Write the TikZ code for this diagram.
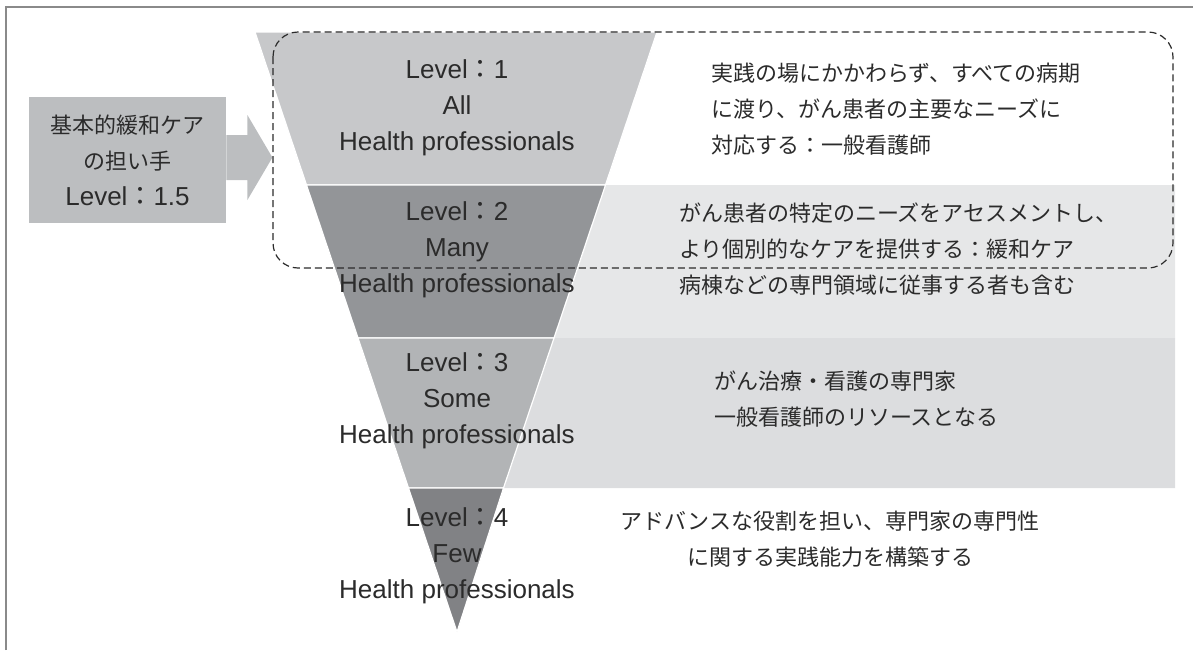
\documentclass[tikz,border=0pt]{standalone}
\usepackage{fontspec}
\setmainfont{Liberation Sans}
\newfontfamily\jfont{Noto Sans CJK JP}
\definecolor{frame}{HTML}{8A8A8A}
\definecolor{tri1}{HTML}{C7C8CA}
\definecolor{tri2}{HTML}{939598}
\definecolor{tri3}{HTML}{B2B4B6}
\definecolor{tri4}{HTML}{818285}
\definecolor{side2}{HTML}{E6E7E8}
\definecolor{side3}{HTML}{DCDDDF}
\definecolor{boxgray}{HTML}{BCBEC0}
\definecolor{ink}{HTML}{2B2B2B}
\newcommand{\lvl}[1]{Level{\jfont ：}#1}
\begin{document}
\begin{tikzpicture}[x=0.5pt,y=-0.5pt,
    lvtext/.style={align=center,text=ink,font=\fontsize{13}{18}\selectfont},
    jtext/.style={align=left,text=ink,font=\jfont\fontsize{11}{18}\selectfont}]
    \useasboundingbox (0,0) rectangle (1193,650);
    \draw[frame,line width=0.8pt] (6,650) -- (6,7) -- (1193,7);

    % side bands
    \fill[side2] (605.5,185) -- (1175,185) -- (1175,338) -- (554,338) -- cycle;
    \fill[side3] (554,338) -- (1175,338) -- (1175,488) -- (503.5,488) -- cycle;

    % the four levels
    \filldraw[fill=tri1,draw=white,line width=0.6pt] (255,32) -- (657,32) -- (605.5,185) -- (306.5,185) -- cycle;
    \filldraw[fill=tri2,draw=white,line width=0.6pt] (306.5,185) -- (605.5,185) -- (554,338) -- (358,338) -- cycle;
    \filldraw[fill=tri3,draw=white,line width=0.6pt] (358,338) -- (554,338) -- (503.5,488) -- (408.5,488) -- cycle;
    \filldraw[fill=tri4,draw=white,line width=0.6pt] (408.5,488) -- (503.5,488) -- (457,632) -- cycle;

    \node[fill=boxgray,minimum width=98.5pt,minimum height=63pt,align=center,text=ink,
          font=\jfont\fontsize{11}{18}\selectfont] (basic) at (127.5,160)
          {基本的緩和ケア\\の担い手\\{\fontspec{Liberation Sans}\fontsize{13}{18}\selectfont\lvl{1.5}}};
    \fill[boxgray] (basic.east) ++(0,-25) -- ++(21,0) -- ++(0,-20) -- ++(25,42.5)
          -- ++(-25,42.5) -- ++(0,-20) -- ++(-21,0) -- cycle;

    \draw[ink,dash pattern=on 3.5pt off 2pt,line width=0.6pt,rounded corners=12.5pt]
          (273,32) rectangle (1173,268);

    \node[lvtext] (lv1) at (457,108) {\lvl{1}\\All\\Health professionals};
    \node[lvtext] (lv2) at (457,250) {\lvl{2}\\Many\\Health professionals};
    \node[lvtext] (lv3) at (457,401) {\lvl{3}\\Some\\Health professionals};
    \node[lvtext] (lv4) at (457,556) {\lvl{4}\\Few\\Health professionals};

    \node[jtext,anchor=west] (txt1) at (704,109)
          {実践の場にかかわらず、すべての病期\\に渡り、がん患者の主要なニーズに\\対応する：一般看護師};
    \node[jtext,anchor=west] (txt2) at (672,249)
          {がん患者の特定のニーズをアセスメントし、\\より個別的なケアを提供する：緩和ケア\\病棟などの専門領域に従事する者も含む};
    \node[jtext,anchor=west] (txt3) at (707,399)
          {がん治療・看護の専門家\\一般看護師のリソースとなる};
    \node[jtext,align=center] (txt4) at (830,539)
          {アドバンスな役割を担い、専門家の専門性\\に関する実践能力を構築する};
\end{tikzpicture}
\end{document}
